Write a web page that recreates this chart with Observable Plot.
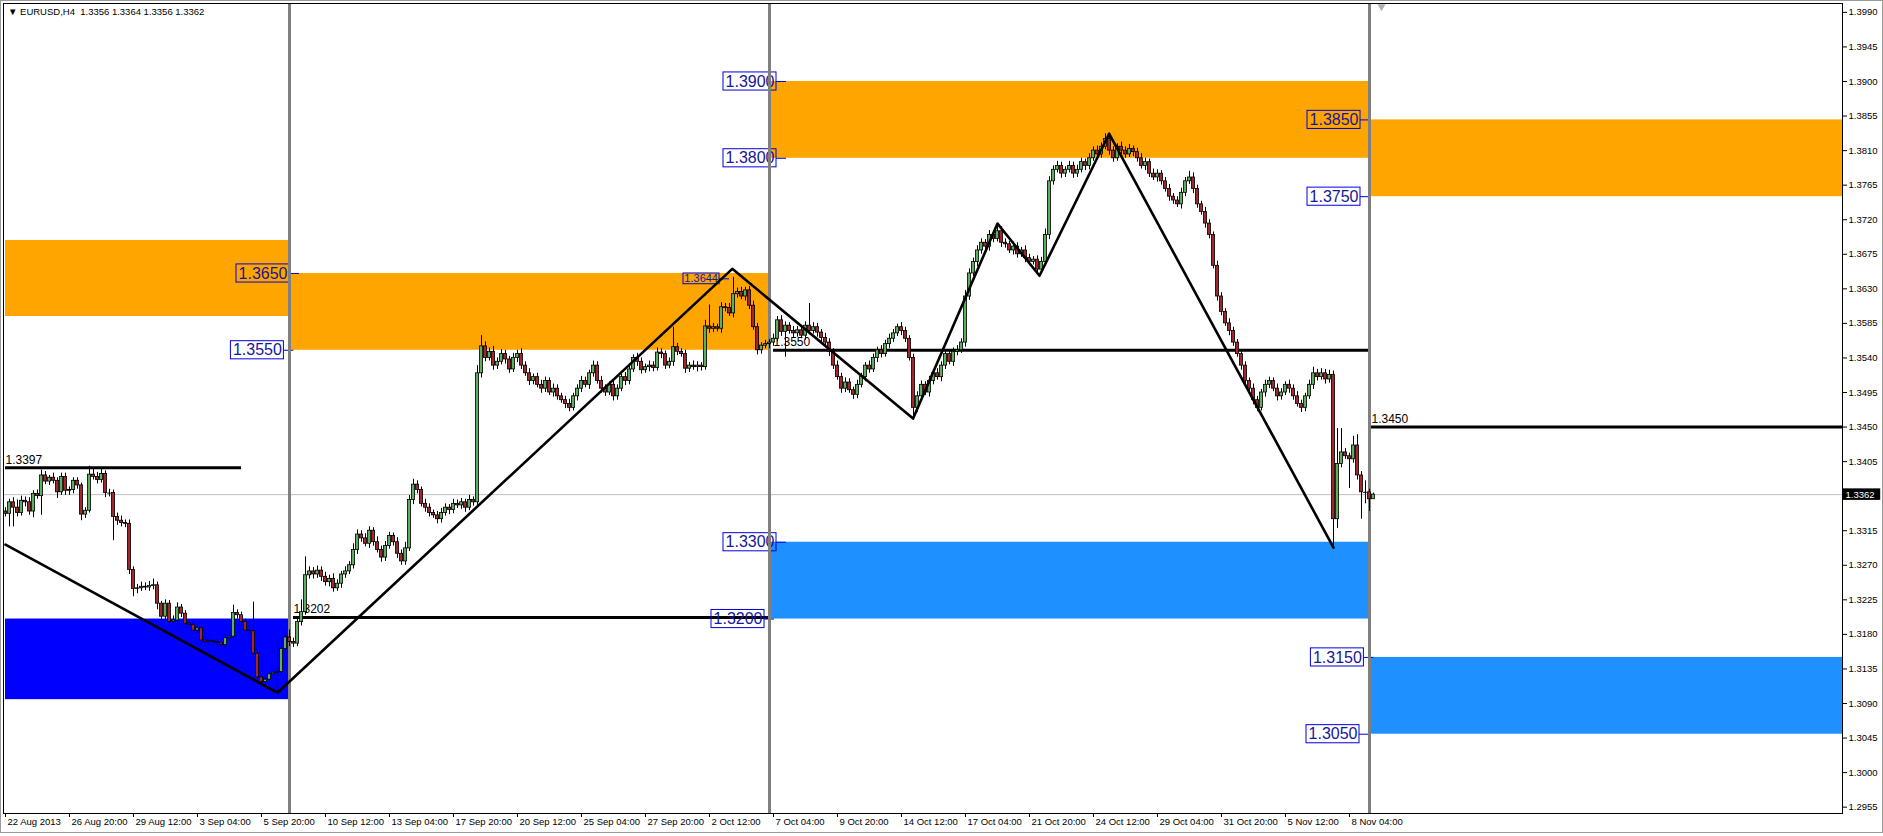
<!DOCTYPE html>
<html><head><meta charset="utf-8">
<script src="https://cdn.jsdelivr.net/npm/d3@7"></script>
<script src="https://cdn.jsdelivr.net/npm/@observablehq/plot@0.6"></script>
<style>
html,body{margin:0;padding:0;background:#fff;overflow:hidden}
#wrap{position:relative;width:1883px;height:836px}
#hdr{position:absolute;left:8px;top:6px;font:9.5px "Liberation Sans",Arial,sans-serif;color:#000;white-space:pre}
#edge{position:absolute;left:0;top:0;width:1881px;height:831px;border:1px solid #9a9a9a;pointer-events:none}
</style></head><body><div id="wrap"><div id="edge"></div></div>
<script>
// ---- data (prices in pips above 1.3000) ----
const symbolTitle = "\u25BC EURUSD,H4  1.3356 1.3364 1.3356 1.3362";
const firstOpen = 340;
const closes = [
337,352,345,338,354,352,340,363,360,387,
379,384,380,365,385,367,368,380,374,336,
341,388,385,381,389,364,364,333,328,325,
324,264,239,240,242,241,243,244,220,203,
220,196,198,215,207,194,192,185,188,172,
170,171,170,169,166,175,177,208,205,196,
185,184,155,124,118,121,128,130,131,161,
176,170,168,196,209,257,262,258,263,255,
248,252,240,246,258,262,270,290,310,305,
298,315,300,290,280,295,308,300,285,275,
292,355,375,368,350,345,338,335,330,338,
345,342,350,348,352,345,355,352,520,555,
540,548,530,535,545,538,525,540,545,530,
520,510,515,505,500,510,495,500,490,485,
480,475,490,500,510,505,520,530,510,500,
495,505,490,500,515,510,525,540,535,524,
528,530,527,547,545,530,535,554,548,545,
526,530,528,530,528,581,578,580,578,606,
605,598,623,626,620,628,608,580,550,556,
558,560,565,589,574,582,575,572,576,569,
582,575,580,573,566,560,548,530,515,500,
508,498,492,505,515,530,525,540,550,545,
558,565,572,580,575,565,540,475,490,505,
495,510,520,515,530,545,535,548,550,560,
620,650,665,680,690,685,700,695,705,690,
688,680,685,675,680,670,665,668,655,665,
700,770,785,790,780,785,790,780,785,795,
790,800,810,805,815,825,810,800,815,810,
805,812,808,800,790,795,780,775,780,770,
760,750,745,740,755,770,775,760,740,730,
715,700,660,620,600,585,575,560,545,530,
510,500,485,475,495,505,510,500,490,495,
505,500,490,480,475,490,505,520,515,520,
512,518,330,402,417,412,408,426,387,365,
365,356,362];
const upperWick = [
5,4,6,10,6,5,6,4,5,7, 5,3,6,4,5,5,4,4,4,3, 4,11,8,6,6,4,5,4,5,6, 4,5,4,5,6,5,6,8,4,3,
5,4,6,6,4,4,5,4,5,4, 5,4,3,4,4,4,5,10,4,4, 4,4,38,3,4,5,4,4,45,14, 9,10,5,4,16,24,6,5,6,5,
6,5,7,5,4,6,5,8,6,5, 6,5,4,7,5,6,5,4,6,5, 8,6,7,5,4,6,5,4,5,6, 5,4,6,5,5,4,6,4,10,14,
6,5,7,5,6,5,4,6,5,7, 5,6,4,5,6,5,4,6,5,4, 5,6,4,5,6,5,4,6,5,6, 5,4,6,5,4,6,5,4,6,5,
4,6,5,6,5,4,5,26,5,4, 5,4,6,5,4,8,28,5,4,6, 5,6,22,5,6,4,5,6,5,4, 5,4,6,5,6,5,4,6,5,6,
5,29,6,5,4,6,5,4,6,5, 6,5,4,6,5,4,6,5,4,6, 5,6,5,4,6,5,4,5,6,5, 4,6,5,6,5,4,6,5,6,5,
8,6,5,6,5,4,6,5,10,6, 5,4,6,5,4,6,5,4,5,6, 8,6,5,6,5,4,6,5,6,5, 4,6,5,6,5,7,6,5,4,6,
5,6,4,5,6,5,4,6,5,4, 5,6,4,5,6,5,8,6,5,4, 6,5,4,6,5,4,6,5,4,6, 5,4,6,5,4,6,5,4,6,5,
4,6,5,6,5,4,6,8,5,6, 5,6,5,46,31,5,4,12,14,5, 15,4,2];
const lowerWick = [
4,17,25,5,4,6,5,8,4,25, 4,5,4,8,4,6,6,5,5,8, 5,3,4,5,4,6,5,31,6,5, 5,6,10,6,4,4,5,5,8,8,
4,5,4,5,5,6,4,6,4,6, 7,5,5,5,4,5,4,4,5,5, 6,5,5,6,8,4,5,5,24,4, 5,6,5,4,5,4,5,6,5,6,
5,6,5,4,6,5,4,5,6,5, 4,6,5,4,6,5,4,5,6,5, 5,4,6,5,4,6,5,4,6,5, 4,6,5,4,5,6,4,5,4,6,
5,4,6,5,4,6,5,4,6,5, 4,6,5,4,6,5,4,6,5,4, 6,5,4,6,5,4,6,5,4,6, 5,4,6,5,4,6,5,4,6,5,
4,6,5,4,6,5,4,6,5,4, 6,5,4,6,5,4,6,5,4,6, 5,4,6,5,4,6,5,4,6,5, 4,6,5,4,6,33,4,6,5,4,
6,5,4,6,5,4,6,5,4,6, 5,4,6,5,4,6,5,4,6,5, 4,6,5,4,6,5,4,14,6,5, 4,6,5,4,6,5,4,6,5,4,
6,5,4,6,5,4,6,5,4,6, 5,4,6,5,4,6,5,4,6,5, 4,6,5,4,6,5,4,6,5,4, 6,5,4,6,5,4,6,5,4,6,
5,4,6,5,4,6,5,4,6,5, 4,6,5,4,6,5,4,6,5,4, 6,5,4,6,5,4,6,5,4,6, 5,4,6,5,4,6,5,4,6,5,
4,6,5,4,6,5,4,6,5,4, 6,5,35,12,5,4,38,5,6,35, 15,16,0];

const timeTickBars = [0,16,32,48,64,80,96,112,128,144,160,176,192,208,224,240,256,272,288,304,320,336];
const timeTickLabels = ["22 Aug 2013","26 Aug 20:00","29 Aug 12:00","3 Sep 04:00","5 Sep 20:00","10 Sep 12:00","13 Sep 04:00","17 Sep 20:00","20 Sep 12:00","25 Sep 04:00","27 Sep 20:00","2 Oct 12:00","7 Oct 04:00","9 Oct 20:00","14 Oct 12:00","17 Oct 04:00","21 Oct 20:00","24 Oct 12:00","29 Oct 04:00","31 Oct 20:00","5 Nov 12:00","8 Nov 04:00"];
const priceTicks = [1.2955,1.3000,1.3045,1.3090,1.3135,1.3180,1.3225,1.3270,1.3315,1.3405,1.3450,1.3495,1.3540,1.3585,1.3630,1.3675,1.3720,1.3765,1.3810,1.3855,1.3900,1.3945,1.3990];
const lastPrice = 1.3362;

const zoneStart = [0, 0, 71, 191, 191, 341, 341];
const zoneEnd   = [71, 71, 191, 341, 341, null, null];
const zoneLow   = [1.3594, 1.3095, 1.3550, 1.3800, 1.3200, 1.3750, 1.3050];
const zoneHigh  = [1.3693, 1.3200, 1.3650, 1.3900, 1.3300, 1.3850, 1.3150];
const zoneKind  = ["supply","demandDeep","supply","supply","demand","supply","demand"];

const separatorBars = [71, 191, 341];

const levelPrice = [1.3397, 1.3202, 1.3550, 1.3450];
const levelStart = [0, 72, 192, 341.5];
const levelEnd   = [59, 191, 341, null];
const levelText  = ["1.3397", "1.3202", "1.3550", "1.3450"];

const zigBars   = [0, 68, 181.7, 226.9, 248, 258.5, 275.9, 332];
const zigPrices = [1.3297, 1.3104, 1.3656, 1.3461, 1.3715, 1.3647, 1.3832, 1.3293];

const tagText  = ["1.3650","1.3550","1.3900","1.3800","1.3300","1.3200","1.3850","1.3750","1.3150","1.3050"];
const tagPrice = [1.3650, 1.3550, 1.3900, 1.3800, 1.3300, 1.3200, 1.3850, 1.3750, 1.3150, 1.3050];
const tagBar   = [71, 69.6, 192.75, 192.75, 192.75, 189.75, 338.75, 338.75, 339.6, 338.5];
const smallTag = {text: "1.3644", price: 1.3643, bar: 178.5};

// ---- build ----
const pip = v => 1.3 + v / 10000;
const bars = closes.map((c, i) => {
  const o = i === 0 ? firstOpen : closes[i - 1];
  return {i, o: pip(o), c: pip(c), h: pip(Math.max(o, c) + upperWick[i]), l: pip(Math.min(o, c) - lowerWick[i]), up: c > o, doji: c === o};
});
const xMax = 459.25;
const zones = zoneStart.map((s, k) => ({x1: s, x2: zoneEnd[k] ?? xMax, y1: zoneLow[k], y2: zoneHigh[k], kind: zoneKind[k]}));
const zoneColor = {supply: "#FFA500", demand: "#1E90FF", demandDeep: "#0000FF"};
const levels = levelPrice.map((p, k) => ({p, x1: levelStart[k], x2: levelEnd[k] ?? xMax, t: levelText[k]}));
const zig = zigBars.map((b, k) => ({b, p: zigPrices[k]}));
const tags = tagText.map((t, k) => ({t, p: tagPrice[k], b: tagBar[k]}));
const tagW = 13.25, tagTick = 2.5, tagH = 0.00118;
const tickMap = new Map(timeTickBars.map((b, k) => [b, timeTickLabels[k]]));

const y0 = 1.39 - 732 / 7679, y1 = 1.39 + 78 / 7679;

const chart = Plot.plot({
  width: 1883, height: 836,
  marginTop: 3, marginLeft: 3, marginRight: 41, marginBottom: 23,
  x: {domain: [-0.5, xMax], axis: null},
  y: {domain: [y0, y1], axis: null},
  style: {fontFamily: "'Liberation Sans', Arial, sans-serif", fontSize: "9.5px", background: "#fff", color: "#000"},
  marks: [
    Plot.rect(zones, {x1: "x1", x2: "x2", y1: "y1", y2: "y2", fill: d => zoneColor[d.kind]}),
    Plot.ruleY([lastPrice], {stroke: "#c0c0c0", strokeWidth: 1}),
    Plot.text(levels, {x: "x1", y: "p", text: "t", textAnchor: "start", dy: -8, fontSize: 12, fill: "#000"}),
    Plot.ruleY(levels, {y: "p", x1: "x1", x2: "x2", stroke: "#000", strokeWidth: 3}),
    Plot.rect(tags, {x1: d => d.b - tagW, x2: "b", y1: d => d.p - tagH, y2: d => d.p + tagH, fill: "none", stroke: "#0000E0", strokeWidth: 1}),
    Plot.ruleY(tags, {y: "p", x1: "b", x2: d => d.b + tagTick, stroke: "#0000E0", strokeWidth: 1}),
    Plot.text(tags, {x: "b", y: "p", text: "t", textAnchor: "end", dx: -2, fontSize: 16, fill: "#16169a"}),
    Plot.rect([smallTag], {x1: d => d.bar - 9, x2: "bar", y1: d => d.price - 0.0007, y2: d => d.price + 0.0007, fill: "none", stroke: "#0000E0", strokeWidth: 1}),
    Plot.ruleY([smallTag], {y: "price", x1: "bar", x2: d => d.bar + 2.5, stroke: "#0000E0", strokeWidth: 1}),
    Plot.text([smallTag], {x: "bar", y: "price", text: "text", textAnchor: "end", dx: -1.5, fontSize: 11, fill: "#16169a"}),
    Plot.ruleX(separatorBars, {stroke: "#808080", strokeWidth: 3}),
    Plot.ruleX(bars, {x: "i", y1: "l", y2: "h", stroke: "#000", strokeWidth: 1}),
    Plot.rect(bars.filter(d => !d.doji), {x1: d => d.i - 0.4, x2: d => d.i + 0.4, y1: "o", y2: "c", fill: d => d.up ? "#5fae5f" : "#a3262b", stroke: "#000", strokeWidth: 0.8}),
    Plot.ruleY(bars.filter(d => d.doji), {y: "o", x1: d => d.i - 0.45, x2: d => d.i + 0.45, stroke: "#000", strokeWidth: 1}),
    Plot.line(zig, {x: "b", y: "p", stroke: "#000", strokeWidth: 2.6}),
    Plot.frame({stroke: "#000", strokeWidth: 1}),
    Plot.axisY(priceTicks, {anchor: "right", tickSize: 4, tickPadding: 2, tickFormat: d => d.toFixed(4), label: null, fontSize: 9.5}),
    Plot.axisX(timeTickBars, {anchor: "bottom", tickSize: 4, tickFormat: () => "", label: null}),
    Plot.text(timeTickBars, {x: d => d, frameAnchor: "bottom", text: d => tickMap.get(d), textAnchor: "start", dx: 2, dy: 11, fontSize: 9.5}),
    Plot.rect([lastPrice], {x1: 459.5, x2: 468.8, y1: d => d - 0.00075, y2: d => d + 0.00075, fill: "#000"}),
    Plot.text([lastPrice], {x: 460, y: d => d, text: d => d.toFixed(4), textAnchor: "start", fill: "#fff", fontSize: 9.5}),
    Plot.dot([344], {x: d => d, frameAnchor: "top", dy: 3, symbol: "triangle", r: 3, rotate: 180, fill: "#b0b0b0", stroke: "none"})
  ]
});
const wrap = document.getElementById("wrap");
wrap.insertBefore(chart, wrap.firstChild);
const hdr = document.createElement("div");
hdr.id = "hdr";
hdr.textContent = symbolTitle;
wrap.appendChild(hdr);
</script>
</body></html>
